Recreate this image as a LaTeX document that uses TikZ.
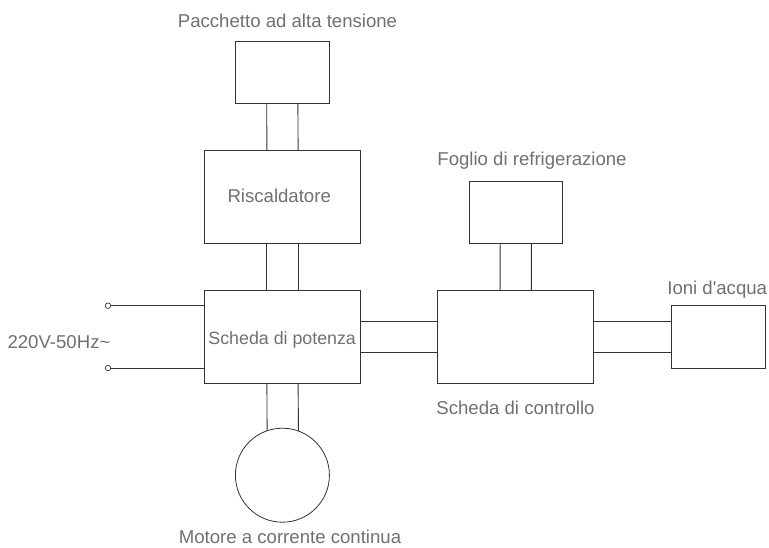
\documentclass[tikz,border=0pt]{standalone}
\usepackage{fontspec}
\setmainfont[Ligatures=TeXOff]{Liberation Sans}
\definecolor{txt}{HTML}{707070}
\definecolor{ln}{HTML}{333333}
\tikzset{
  x=1pt,y=-1pt,
  blockbox/.style={draw=ln,line width=0.8pt,inner sep=0pt,outer sep=0pt,anchor=north west},
  motorcirc/.style={draw=ln,line width=0.8pt,circle,inner sep=0pt,outer sep=0pt,minimum size=94pt},
  term/.style={draw=ln,fill=white,line width=0.7pt,circle,inner sep=0pt,outer sep=0pt,minimum size=5.5pt},
  wire/.style={draw=ln,line width=0.9pt},
  lab/.style={text=txt,font=\fontsize{18.6pt}{21pt}\selectfont,inner sep=0pt,anchor=base},
  labsmall/.style={lab,font=\fontsize{17.8pt}{21pt}\selectfont}
}
\begin{document}
\begin{tikzpicture}
\useasboundingbox (0,0) rectangle (769,547);
% blocks
\node[blockbox,minimum width=93.6pt,minimum height=62.5pt] (pack) at (235.5,41) {};
\node[blockbox,minimum width=156pt,minimum height=93.3pt] (heat) at (204.5,150) {};
\node[blockbox,minimum width=156pt,minimum height=93pt] (power) at (204.5,290.3) {};
\node[blockbox,minimum width=93.6pt,minimum height=62.4pt] (cool) at (469,181) {};
\node[blockbox,minimum width=156pt,minimum height=93pt] (ctrl) at (437.7,290.3) {};
\node[blockbox,minimum width=93.6pt,minimum height=62.4pt] (ion) at (671.3,305.6) {};
\node[motorcirc] (motor) at (282.4,475.2) {};
% terminals
\node[term] (t1) at (108,305.7) {};
\node[term] (t2) at (108,368) {};
% connectors
\foreach \d in {-15.6,15.6}{
  \draw[wire] ([xshift=\d pt]pack.south) -- ([xshift=\d pt]heat.north);
  \draw[wire] ([xshift=\d pt]heat.south) -- ([xshift=\d pt]power.north);
  \draw[wire] ([xshift=\d pt]cool.south) -- ([xshift=\d pt]ctrl.north);
  \draw[wire] ([yshift=\d pt]power.east) -- ([yshift=\d pt]ctrl.west);
  \draw[wire] ([yshift=\d pt]ctrl.east) -- ([yshift=\d pt]ion.west);
}
\draw[wire] ([xshift=-15.6pt]power.south) -- (motor.109.4);
\draw[wire] ([xshift=15.6pt]power.south) -- (motor.70.6);
\draw[wire] (t1) -- (t1 -| power.west);
\draw[wire] (t2) -- (t2 -| power.west);
% labels
\node[lab] (lheat) at (279.2,202.5) {Riscaldatore};
\node[labsmall] (lpower) at (282.2,344.3) {Scheda di potenza};
\node[lab] (lpack) at (287.5,27.5) {Pacchetto ad alta tensione};
\node[lab] (lcool) at (532,165) {Foglio di refrigerazione};
\node[lab] (lion) at (717.2,294) {Ioni d'acqua};
\node[lab] (lctrl) at (515.5,414) {Scheda di controllo};
\node[lab] (lac) at (59,348.7) {220V-50Hz\char`~};
\node[lab] (lmotor) at (290,543) {Motore a corrente continua};
\end{tikzpicture}
\end{document}
